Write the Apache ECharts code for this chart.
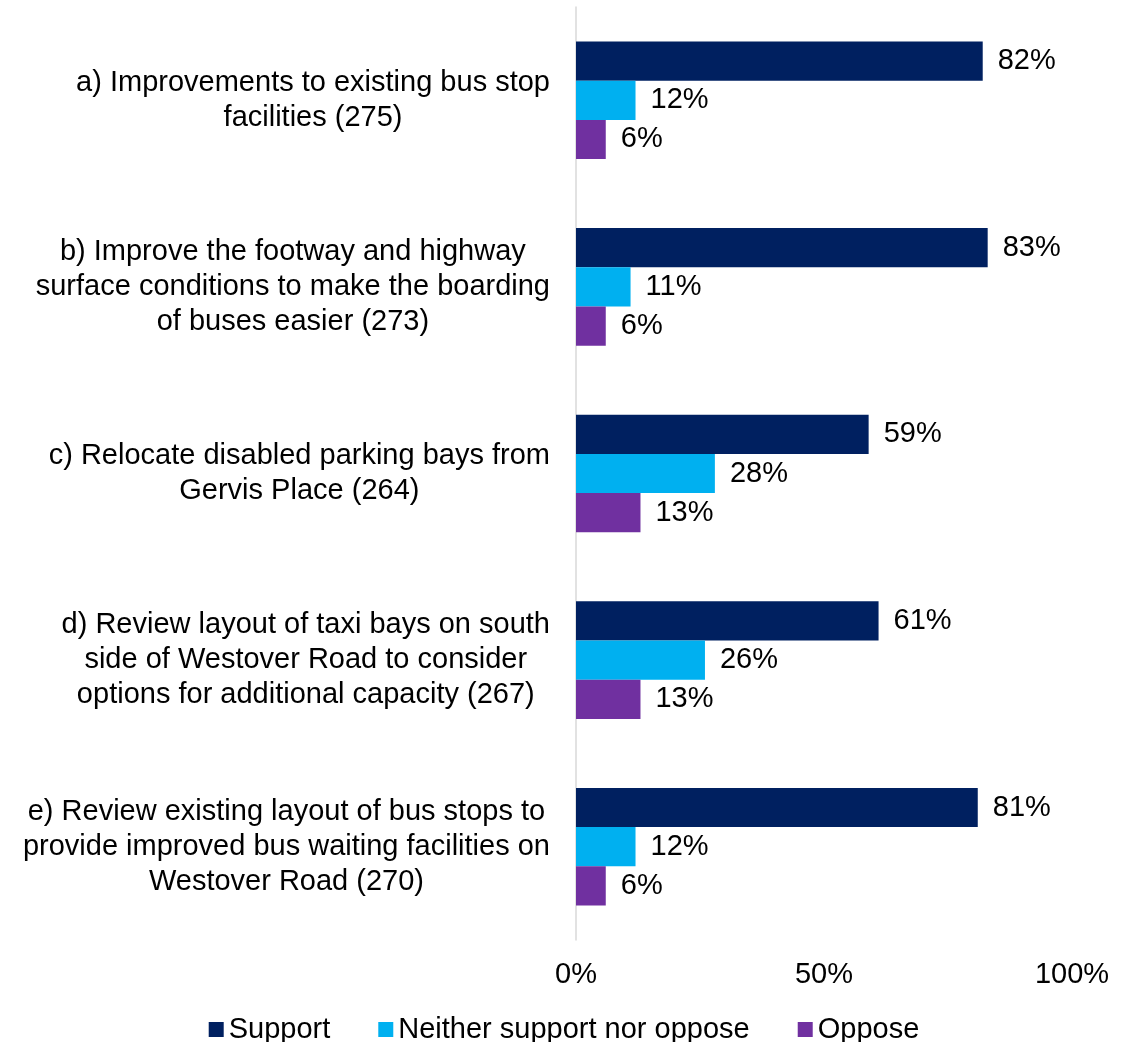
<!DOCTYPE html>
<html>
<head>
<meta charset="utf-8">
<script src="https://cdn.jsdelivr.net/npm/echarts@6/dist/echarts.min.js"></script>
<style>
  html, body { margin: 0; padding: 0; background: #fff; }
  #chart { width: 1128px; height: 1042px; }
</style>
</head>
<body>
<div id="chart"></div>
<script>
  // categories (line breaks as in the original chart)
  var categories = [
    'a) Improvements to existing bus stop\nfacilities (275)',
    'b) Improve the footway and highway\nsurface conditions to make the boarding\nof buses easier (273)',
    'c) Relocate disabled parking bays from\nGervis Place (264)',
    'd) Review layout of taxi bays on south\nside of Westover Road to consider\noptions for additional capacity (267)',
    'e) Review existing layout of bus stops to\nprovide improved bus waiting facilities on\nWestover Road (270)'
  ];
  var seriesNames = ['Support', 'Neither support nor oppose', 'Oppose'];
  var support = [82, 83, 59, 61, 81];
  var neither = [12, 11, 28, 26, 12];
  var oppose = [6, 6, 13, 13, 6];
  var colors = ['#002060', '#00B0F0', '#7030A0'];

  var font = 'Liberation Sans, Arial, sans-serif';

  function makeSeries(name, data, color) {
    return {
      name: name,
      type: 'bar',
      data: data,
      barGap: 0,
      barCategoryGap: '37%',
      itemStyle: { color: color },
      label: {
        show: true,
        position: 'right',
        distance: 15,
        formatter: '{c}%',
        color: '#000',
        fontSize: 29,
        fontFamily: font
      }
    };
  }

  var chart = echarts.init(document.getElementById('chart'));
  chart.setOption({
    animation: false,
    textStyle: { fontFamily: font, color: '#000' },
    grid: { left: 576, right: 56, top: 7, bottom: 102, containLabel: false },
    legend: {
      data: seriesNames,
      top: 1010,
      left: 'center',
      icon: 'rect',
      itemWidth: 15,
      itemHeight: 15,
      itemGap: 48,
      textStyle: { fontSize: 29, color: '#000', fontFamily: font }
    },
    xAxis: {
      type: 'value',
      min: 0,
      max: 100,
      interval: 50,
      axisLine: { show: false },
      axisTick: { show: false },
      splitLine: { show: false },
      axisLabel: {
        formatter: '{value}%',
        fontSize: 29,
        color: '#000',
        margin: 20,
        fontFamily: font
      }
    },
    yAxis: {
      type: 'category',
      data: categories,
      inverse: true,
      axisTick: { show: false },
      axisLine: { show: true, lineStyle: { color: '#d9d9d9', width: 1.5 } },
      axisLabel: {
        margin: 26,
        align: 'right',
        formatter: function (v) {
          return v.split('\n').map(function (l) { return '{c|' + l + '}'; }).join('\n');
        },
        rich: {
          c: { align: 'center', fontSize: 29, lineHeight: 35, color: '#000', fontFamily: font }
        }
      }
    },
    series: [
      makeSeries(seriesNames[0], support, colors[0]),
      makeSeries(seriesNames[1], neither, colors[1]),
      makeSeries(seriesNames[2], oppose, colors[2])
    ]
  });
</script>
</body>
</html>
